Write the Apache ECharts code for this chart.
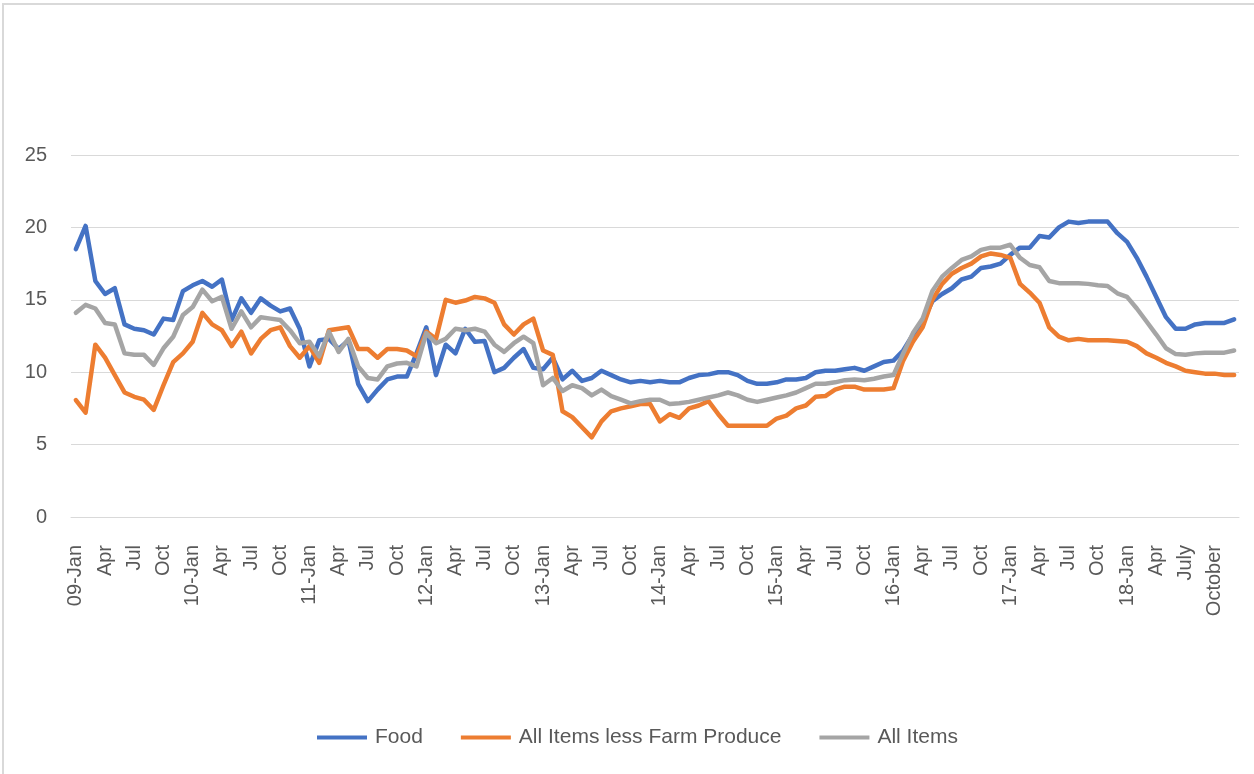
<!DOCTYPE html>
<html lang="en">
<head>
    <meta charset="UTF-8">
    <title>Inflation: Food, All Items less Farm Produce, All Items</title>
    <script src="https://cdn.jsdelivr.net/npm/echarts@6.0.0/dist/echarts.min.js"></script>
    <style>
        html, body { margin: 0; padding: 0; background: #fff; }
        #chart { width: 1254px; height: 774px; }
    </style>
</head>
<body>
    <div id="chart"></div>

    <script>
        // month labels, one row per year (only every 3rd one is shown)
        const months = [
            '09-Jan', 'Feb', 'Mar', 'Apr', 'May', 'Jun', 'Jul', 'Aug', 'Sep', 'Oct', 'Nov', 'Dec',
            '10-Jan', 'Feb', 'Mar', 'Apr', 'May', 'Jun', 'Jul', 'Aug', 'Sep', 'Oct', 'Nov', 'Dec',
            '11-Jan', 'Feb', 'Mar', 'Apr', 'May', 'Jun', 'Jul', 'Aug', 'Sep', 'Oct', 'Nov', 'Dec',
            '12-Jan', 'Feb', 'Mar', 'Apr', 'May', 'Jun', 'Jul', 'Aug', 'Sep', 'Oct', 'Nov', 'Dec',
            '13-Jan', 'Feb', 'Mar', 'Apr', 'May', 'Jun', 'Jul', 'Aug', 'Sep', 'Oct', 'Nov', 'Dec',
            '14-Jan', 'Feb', 'Mar', 'Apr', 'May', 'Jun', 'Jul', 'Aug', 'Sep', 'Oct', 'Nov', 'Dec',
            '15-Jan', 'Feb', 'Mar', 'Apr', 'May', 'Jun', 'Jul', 'Aug', 'Sep', 'Oct', 'Nov', 'Dec',
            '16-Jan', 'Feb', 'Mar', 'Apr', 'May', 'Jun', 'Jul', 'Aug', 'Sep', 'Oct', 'Nov', 'Dec',
            '17-Jan', 'Feb', 'Mar', 'Apr', 'May', 'Jun', 'Jul', 'Aug', 'Sep', 'Oct', 'Nov', 'Dec',
            '18-Jan', 'Feb', 'Mar', 'Apr', 'May', 'June', 'July', 'August', 'September', 'October', 'November', 'December'
        ];

        const food = [
            18.5, 20.1, 16.3, 15.4, 15.8, 13.3, 13.0, 12.9, 12.6, 13.7, 13.6, 15.6,
            16.0, 16.3, 15.9, 16.4, 13.6, 15.1, 14.1, 15.1, 14.6, 14.2, 14.4, 13.0,
            10.4, 12.2, 12.3, 11.6, 12.2, 9.2, 8.0, 8.8, 9.5, 9.7, 9.7, 11.3,
            13.1, 9.8, 11.9, 11.3, 13.0, 12.1, 12.15, 10.0, 10.3, 11.0, 11.6, 10.3,
            10.2, 11.0, 9.5, 10.1, 9.4, 9.6, 10.1, 9.8, 9.5, 9.3, 9.4, 9.3,
            9.4, 9.3, 9.3, 9.6, 9.8, 9.85, 10.0, 10.0, 9.8, 9.4, 9.2, 9.2,
            9.3, 9.5, 9.5, 9.6, 10.0, 10.1, 10.1, 10.2, 10.3, 10.1, 10.4, 10.7,
            10.8, 11.5, 12.6, 13.5, 14.9, 15.4, 15.8, 16.4, 16.6, 17.2, 17.3, 17.5,
            18.1, 18.6, 18.6, 19.4, 19.3, 20.0, 20.4, 20.3, 20.4, 20.4, 20.4, 19.6,
            19.0, 17.9, 16.6, 15.2, 13.8, 13.0, 13.0, 13.3, 13.4, 13.4, 13.4, 13.65
        ];

        const lessFarm = [
            8.07, 7.2, 11.9, 11.0, 9.8, 8.6, 8.3, 8.1, 7.4, 9.1, 10.7, 11.3,
            12.1, 14.1, 13.3, 12.9, 11.8, 12.8, 11.3, 12.3, 12.9, 13.1, 11.8, 11.0,
            11.8, 10.65, 12.9, 13.0, 13.1, 11.6, 11.6, 11.0, 11.6, 11.6, 11.5, 11.1,
            12.8, 12.3, 15.0, 14.8, 14.95, 15.2, 15.1, 14.8, 13.3, 12.6, 13.3, 13.7,
            11.5, 11.2, 7.3, 6.9, 6.2, 5.5, 6.6, 7.3, 7.5, 7.65, 7.8, 7.8,
            6.6, 7.1, 6.85, 7.5, 7.7, 8.0, 7.1, 6.3, 6.3, 6.3, 6.3, 6.3,
            6.8, 7.0, 7.5, 7.7, 8.3, 8.35, 8.8, 9.0, 9.0, 8.8, 8.8, 8.8,
            8.9, 10.8, 12.1, 13.1, 15.0, 16.1, 16.8, 17.2, 17.5, 18.0, 18.2, 18.1,
            17.9, 16.1, 15.5, 14.8, 13.1, 12.45, 12.2, 12.3, 12.2, 12.2, 12.2, 12.15,
            12.1, 11.8, 11.3, 11.0, 10.65, 10.4, 10.1, 10.0, 9.9, 9.9, 9.8, 9.8
        ];

        const allItems = [
            14.1, 14.65, 14.4, 13.4, 13.3, 11.3, 11.2, 11.2, 10.5, 11.65, 12.45, 13.95,
            14.5, 15.7, 14.9, 15.2, 13.0, 14.2, 13.1, 13.8, 13.7, 13.6, 12.9, 12.0,
            12.1, 11.1, 12.8, 11.4, 12.3, 10.4, 9.6, 9.5, 10.4, 10.6, 10.65, 10.4,
            12.7, 12.0, 12.3, 13.0, 12.9, 13.0, 12.8, 11.9, 11.4, 12.0, 12.45, 12.0,
            9.1, 9.6, 8.7, 9.1, 8.9, 8.4, 8.8, 8.35, 8.1, 7.85, 8.0, 8.1,
            8.1, 7.8, 7.85, 7.95, 8.1, 8.25, 8.4, 8.6, 8.4, 8.1, 7.95, 8.1,
            8.25, 8.4, 8.6, 8.9, 9.2, 9.2, 9.3, 9.45, 9.5, 9.45, 9.55, 9.7,
            9.8, 11.3, 12.7, 13.7, 15.6, 16.6, 17.2, 17.75, 18.0, 18.45, 18.6, 18.6,
            18.8, 17.9, 17.4, 17.25, 16.3, 16.15, 16.15, 16.15, 16.1, 16.0, 15.95, 15.45,
            15.2, 14.4, 13.5, 12.6, 11.65, 11.25, 11.2, 11.3, 11.35, 11.35, 11.35, 11.5
        ];

        const seriesNames = ['Food', 'All Items less Farm Produce', 'All Items'];
        const colors = ['#4472C4', '#ED7D31', '#A5A5A5'];

        const chart = echarts.init(document.getElementById('chart'), null, { renderer: 'canvas' });

        const makeLine = (name, data, color) => ({
            name: name,
            type: 'line',
            data: data,
            symbol: 'none',
            smooth: false,
            lineStyle: { color: color, width: 4.5, join: 'round', cap: 'round' },
            itemStyle: { color: color }
        });

        chart.setOption({
            animation: false,
            backgroundColor: '#fff',
            textStyle: { fontFamily: 'Liberation Sans' },
            graphic: [{
                type: 'rect',
                shape: { x: 3, y: 4, width: 1300, height: 820 },
                style: { fill: 'none', stroke: '#d9d9d9', lineWidth: 2 },
                silent: true
            }],
            grid: { left: 71, right: 15, top: 155, bottom: 257 },
            legend: {
                data: seriesNames,
                left: 312,
                top: 722,
                icon: 'rect',
                itemWidth: 50,
                itemHeight: 4,
                itemGap: 38,
                textStyle: { fontFamily: 'Liberation Sans', fontSize: 21, color: '#595959', padding: [0, 0, 0, 3] }
            },
            xAxis: {
                type: 'category',
                data: months,
                boundaryGap: true,
                axisTick: { show: false },
                axisLine: { lineStyle: { color: '#d9d9d9', width: 1 } },
                axisLabel: {
                    interval: 2,
                    rotate: 90,
                    margin: 28,
                    fontSize: 20,
                    color: '#595959'
                },
                splitLine: { show: false }
            },
            yAxis: {
                type: 'value',
                min: 0,
                max: 25,
                interval: 5,
                axisLine: { show: false },
                axisTick: { show: false },
                axisLabel: { margin: 24, fontSize: 20, color: '#595959' },
                splitLine: { lineStyle: { color: '#d9d9d9', width: 1 } }
            },
            series: [
                makeLine(seriesNames[0], food, colors[0]),
                makeLine(seriesNames[1], lessFarm, colors[1]),
                makeLine(seriesNames[2], allItems, colors[2])
            ]
        });
    </script>
</body>
</html>
